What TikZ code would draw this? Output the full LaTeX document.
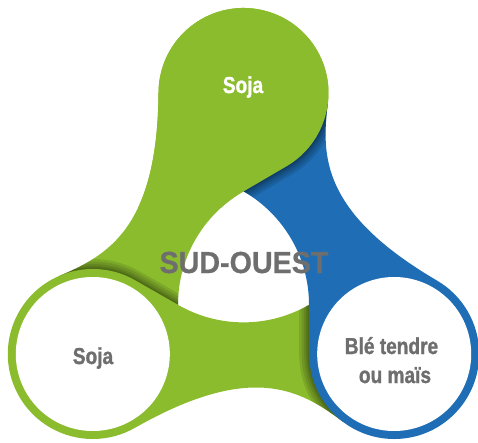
\documentclass[tikz,border=0pt]{standalone}
\usepackage{fontspec}
\setmainfont{Liberation Sans}
\newfontfamily\condfont[FakeStretch=0.83, BoldFont={Liberation Sans Bold}, BoldFeatures={FakeBold=1.2}]{Liberation Sans}
\newfontfamily\titlefont[FakeStretch=0.94, BoldFont={Liberation Sans Bold}, BoldFeatures={FakeBold=0.6}]{Liberation Sans}
\definecolor{lgreen}{HTML}{8BBC2E}
\definecolor{lblue}{HTML}{1F6EB5}
\definecolor{tgray}{HTML}{6E6E6E}
\newcommand{\piecepath}{(0,75.6) -- (42.5,100.4) arc[start angle=-60, end angle=180, radius=85] .. controls (-86,40) and (-135.1,11.9) .. (-183.9,-8.8) -- (-150.7,-87) -- (-65.5,-37.8) arc[start angle=180, end angle=120, radius=131] -- cycle}
\tikzset{
  shadowline/.style={draw=black, line width=#1, draw opacity=0.1, line join=round},
  label/.style={font=\condfont\bfseries\fontsize{23}{28}\selectfont, anchor=base, inner sep=0pt}
}
\begin{document}
\begin{tikzpicture}[x=1pt,y=1pt]
\useasboundingbox (-243.5,-175) rectangle (234.5,267);
% 1. top piece (green)
\fill[lgreen] \piecepath;
% 2. shadow of bottom-left piece on top piece
\begin{scope}
  \clip \piecepath;
  \foreach \w in {20pt,15pt,10pt,6pt,3pt}{\path[shadowline=\w, rotate=120] \piecepath;}
\end{scope}
% bottom-left piece (green ring + band)
\begin{scope}[rotate=120]
  \fill[lgreen] \piecepath;
  \fill[white] (0,174) circle[radius=77];
\end{scope}
% 3. shadow of bottom-right piece on bottom-left piece
\begin{scope}
  \clip[rotate=120] \piecepath;
  \foreach \w in {20pt,15pt,10pt,6pt,3pt}{\path[shadowline=\w, rotate=240] \piecepath;}
\end{scope}
% bottom-right piece (blue ring + band)
\begin{scope}[rotate=240]
  \fill[lblue] \piecepath;
  \fill[white] (0,174) circle[radius=77];
\end{scope}
% 4. shadow of top piece on blue piece
\begin{scope}
  \clip[rotate=240] \piecepath;
  \clip (-250,60) rectangle (250,280);
  \foreach \w in {20pt,15pt,10pt,6pt,3pt}{\path[shadowline=\w] \piecepath;}
\end{scope}
% top piece again, over the blue band
\begin{scope}
  \clip (-250,60) rectangle (250,280);
  \fill[lgreen] \piecepath;
\end{scope}
% texts
\node[label, text=white] (t1) at (-0.5,174) {Soja};
\node[label, text=tgray] (t2) at (-150.5,-97) {Soja};
\node[label, text=tgray] (t3) at (148,-87) {Blé tendre};
\node[label, text=tgray] (t4) at (151.5,-116) {ou maïs};
\node[font=\titlefont\bfseries\fontsize{30.5}{34}\selectfont, text=tgray, anchor=base, inner sep=0pt] (c) at (0.5,-6) {SUD-OUEST};
\end{tikzpicture}
\end{document}
